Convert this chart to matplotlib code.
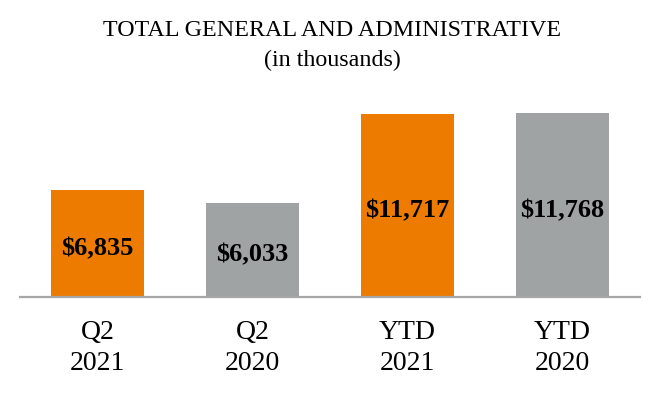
import matplotlib
matplotlib.use("Agg")
import matplotlib.pyplot as plt

# values (in thousands)
categories = ["Q2\n2021", "Q2\n2020", "YTD\n2021", "YTD\n2020"]
values = [6835, 6033, 11717, 11768]
labels = ["$6,835", "$6,033", "$11,717", "$11,768"]
colors = ["#ED7B00", "#A0A3A4", "#ED7B00", "#A0A3A4"]

plt.rcParams["font.family"] = ["Liberation Serif", "DejaVu Serif"]

fig = plt.figure(figsize=(6.6, 3.94), dpi=100)
ax = fig.add_axes([20/660, 97.5/394, 620/660, 202.5/394])

x = range(len(values))
ax.bar(x, values, width=0.6, color=colors)
for xi, v, lab in zip(x, values, labels):
    ax.annotate(lab, (xi, v/2), xytext=(0, -4), textcoords="offset points",
                ha="center", va="center", fontsize=19, fontweight="bold", color="black")

ax.set_xlim(-0.5, 3.5)
ax.set_ylim(0, 13000)
ax.set_xticks(list(x))
ax.set_xticklabels(categories, fontsize=20, linespacing=1.3)
ax.tick_params(axis="x", length=0, pad=17)
ax.set_yticks([])
for s in ("top", "right", "left"):
    ax.spines[s].set_visible(False)
ax.spines["bottom"].set_color("#A6A6A6")
ax.spines["bottom"].set_linewidth(1.6)

fig.text(332/660, 1 - 31/394, "TOTAL GENERAL AND ADMINISTRATIVE", ha="center", va="center", fontsize=17.3)
fig.text(332/660, 1 - 60/394, "(in thousands)", ha="center", va="center", fontsize=17.3)

fig.savefig("out.png", dpi=100)
